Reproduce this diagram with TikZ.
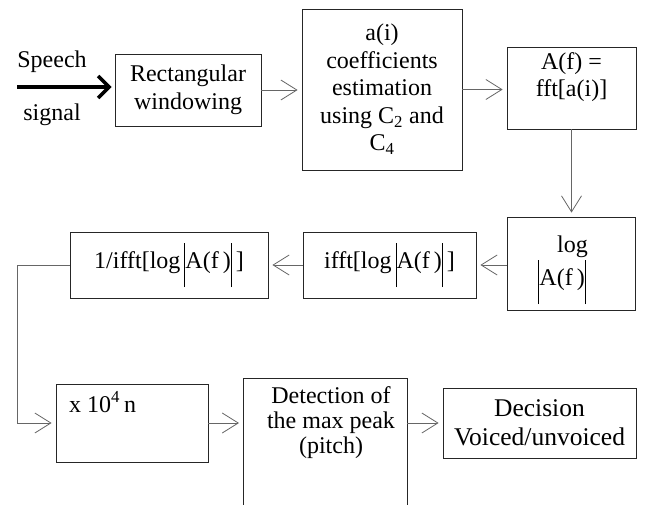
\documentclass[tikz,border=0pt]{standalone}
\usepackage{fontspec}
\setmainfont{Liberation Serif}
\usetikzlibrary{arrows.meta}
% tall magnitude bars drawn as rules around the text
\newcommand{\magbar}{\raisebox{-0.8em}{\rule{1pt}{1.85em}}}
\newcommand{\magA}{\,\magbar A(f\,)\magbar\,}
\begin{document}
\begin{tikzpicture}[x=1pt,y=-1pt,
  box/.style={draw=black!85, line width=0.8pt, inner sep=0pt, align=center,
              font=\fontsize{24}{27.5}\selectfont},
  txt/.style={inner sep=0pt, align=center, font=\fontsize{24}{27.5}\selectfont},
  flow/.style={draw=black!60, line width=0.8pt,
               -{Straight Barb[length=16pt,width=20pt]}, shorten >=4pt},
  input/.style={line width=3.5pt, -{Straight Barb[length=11pt,width=22pt]}, shorten >=3pt},
]
\useasboundingbox (0,0) rectangle (653,505);

% top row
\node[box, minimum width=146pt, minimum height=72pt] (b1) at (188,90)
  {Rectangular\\windowing};
\node[box, minimum width=160pt, minimum height=161pt] (b2) at (382,89.5)
  {a(i)\\coefficients\\estimation\\using C\textsubscript{2} and\\C\textsubscript{4}};
\node[box, minimum width=129pt, minimum height=82pt] (b3) at (571.5,88) {};
\node[txt] (b3t) at (571.5,77) {A(f) =\\fft[a(i)]};

% middle row
\node[box, minimum width=128pt, minimum height=93pt] (b4) at (571,263.5) {};
\node[txt, anchor=base east] (b4a) at (588,252) {log};
\node[txt, anchor=base east] (b4b) at (590,285) {\magA};
\node[box, minimum width=173pt, minimum height=66pt] (b5) at (389.5,265)
  {ifft[log\magA]};
\node[box, minimum width=198pt, minimum height=66pt] (b6) at (169,265)
  {1/ifft[log\magA]};

% bottom row
\node[box, minimum width=152pt, minimum height=78pt] (b7) at (132,423) {};
\node[txt, anchor=base west] (b7t) at (69,412) {x 10\textsuperscript{4}\,n};
\coordinate (detBL) at (243,505);
\coordinate (detTL) at (243,378);
\coordinate (detTR) at (407,378);
\coordinate (detBR) at (407,505);
\coordinate (detL) at (243,423);
\coordinate (detR) at (407,423);
\draw[draw=black!85, line width=0.8pt] (detBL) -- (detTL) -- (detTR) -- (detBR);
\node[txt, font=\fontsize{24}{25}\selectfont] (det) at (331,423)
  {Detection of\\the max peak\\(pitch)};
\node[box, minimum width=193pt, minimum height=70pt,
      font=\fontsize{25.5}{29}\selectfont] (b8) at (539.5,423)
  {Decision\\Voiced/unvoiced};

% input signal
\node[txt] (speech) at (52,62) {Speech};
\node[txt] (signal) at (52,115) {signal};
\coordinate (src) at (17,87);
\draw[input] (src) -- (src -| b1.west);

% connectors
\coordinate (bend) at (17,265);
\draw[flow] (b1.east) -- (b1.east -| b2.west);
\draw[flow] (b2.east) -- (b2.east -| b3.west);
\draw[flow] (b3.south) -- (b3.south |- b4.north);
\draw[flow] (b5.east -| b4.west) -- (b5.east);
\draw[flow] (b5.west) -- (b6.east);
\draw[flow] (b6.west) -- (bend) |- (b7.west);
\draw[flow] (b7.east) -- (detL);
\draw[flow] (detR) -- (b8.west);
\end{tikzpicture}
\end{document}
